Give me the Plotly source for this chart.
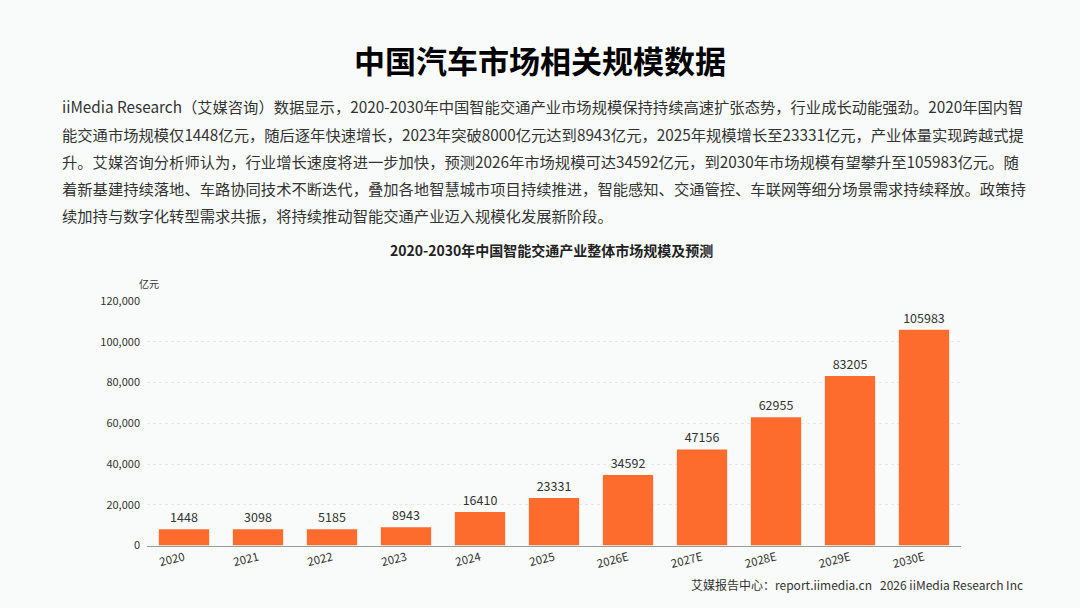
import plotly.graph_objects as go

# chart data
years = ["2020", "2021", "2022", "2023", "2024", "2025",
         "2026E", "2027E", "2028E", "2029E", "2030E"]
market_size = [1448, 3098, 5185, 8943, 16410, 23331,
               34592, 47156, 62955, 83205, 105983]
y_ticks = [0, 20000, 40000, 60000, 80000, 100000, 120000]

# the source chart gives small bars a minimum visible height
MIN_BAR = 8000
bar_heights = [max(v, MIN_BAR) for v in market_size]

title = "中国汽车市场相关规模数据"
chart_title = "2020-2030年中国智能交通产业整体市场规模及预测"
paragraph = [
    "iiMedia Research（艾媒咨询）数据显示，2020-2030年中国智能交通产业市场规模保持持续高速扩张态势，行业成长动能强劲。2020年国内智",
    "能交通市场规模仅1448亿元，随后逐年快速增长，2023年突破8000亿元达到8943亿元，2025年规模增长至23331亿元，产业体量实现跨越式提",
    "升。艾媒咨询分析师认为，行业增长速度将进一步加快，预测2026年市场规模可达34592亿元，到2030年市场规模有望攀升至105983亿元。随",
    "着新基建持续落地、车路协同技术不断迭代，叠加各地智慧城市项目持续推进，智能感知、交通管控、车联网等细分场景需求持续释放。政策持",
    "续加持与数字化转型需求共振，将持续推动智能交通产业迈入规模化发展新阶段。",
]
footer = "艾媒报告中心：report.iimedia.cn   2026 iiMedia Research Inc"

FONT = "Noto Sans CJK SC"
W, H = 1080, 608

fig = go.Figure(go.Bar(
    x=years,
    y=bar_heights,
    text=[str(v) for v in market_size],
    textposition="outside",
    cliponaxis=False,
    textfont=dict(family=FONT, size=12.5, color="#333333"),
    marker=dict(color="#fd6c2c", line=dict(width=0)),
    width=0.68,
    hoverinfo="skip",
))

fig.update_layout(
    width=W, height=H,
    margin=dict(l=0, r=0, t=0, b=0),
    paper_bgcolor="#f9fbfa",
    plot_bgcolor="rgba(0,0,0,0)",
    showlegend=False,
    font=dict(family=FONT, color="#333333"),
    xaxis=dict(
        domain=[147 / W, 961 / W],
        tickangle=-14,
        tickfont=dict(size=11.5, color="#333333"),
        showline=True, linecolor="#9a9a9a", linewidth=1,
        ticks="", showgrid=False,
    ),
    yaxis=dict(
        domain=[(H - 551) / H, (H - 300) / H],
        range=[0, 120000],
        tickvals=y_ticks,
        ticktext=[f"{v:,}" for v in y_ticks],
        tickfont=dict(size=11, color="#333333"),
        showgrid=True, gridcolor="#e4e6e8", griddash="dot", gridwidth=1,
        zeroline=False, ticks="", ticklabelstandoff=6,
    ),
)

annotations = [
    dict(text=f"<b>{title}</b>", x=0.5, y=1 - 52 / H, xref="paper", yref="paper",
         xanchor="center", yanchor="middle", showarrow=False,
         font=dict(family=FONT, size=31, color="#000000")),
    dict(text=f"<b>{chart_title}</b>", x=551 / W, y=1 - 248 / H, xref="paper", yref="paper",
         xanchor="center", yanchor="middle", showarrow=False,
         font=dict(family=FONT, size=14, color="#222222")),
    dict(text="亿元", x=137 / W, y=1 - 282 / H, xref="paper", yref="paper",
         xanchor="left", yanchor="middle", showarrow=False,
         font=dict(family=FONT, size=10, color="#333333")),
    dict(text=footer, x=1025 / W, y=1 - 591 / H, xref="paper", yref="paper",
         xanchor="right", yanchor="middle", showarrow=False,
         font=dict(family=FONT, size=12, color="#333333")),
]
for i, line in enumerate(paragraph):
    annotations.append(dict(
        text=line, x=60 / W, y=1 - (100 + 28 * i) / H, xref="paper", yref="paper",
        xanchor="left", yanchor="middle", showarrow=False,
        font=dict(family=FONT, size=15.3, color="#333333"),
    ))
fig.update_layout(annotations=annotations)

# drop the browser's default body margin so the figure sits at the page origin
fig.write_html("out.html", config={"displayModeBar": False},
               post_script="document.body.style.margin='0';")
